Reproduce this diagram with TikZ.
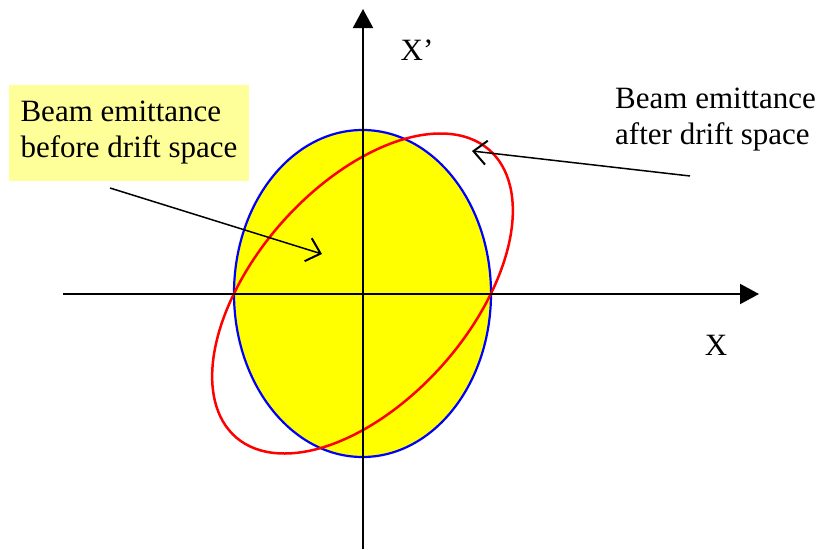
\documentclass[tikz,border=0pt]{standalone}
\usepackage{fontspec}
\setmainfont{Liberation Serif}
\usetikzlibrary{arrows.meta}
\definecolor{boxyellow}{HTML}{FFFF99}
\definecolor{beamyellow}{HTML}{FFFF00}
\definecolor{beamblue}{HTML}{0000FF}
\definecolor{beamred}{HTML}{FF0000}
\begin{document}
\begin{tikzpicture}[x=1pt,y=-1pt,
  font=\fontsize{31}{36}\selectfont,
  axis/.style={line width=2pt, -{Triangle[length=19pt,width=20pt]}},
  pointer/.style={line width=1.5pt, -{Straight Barb[length=13pt,width=24pt,line width=2pt]}},
  label/.style={inner sep=0pt}]
\useasboundingbox (0,0) rectangle (824,549);
% ellipses
\fill[beamyellow] (362.5,293.5) ellipse [x radius=128.5pt, y radius=163.5pt];
\draw[beamblue, line width=2.2pt] (362.5,293.5) ellipse [x radius=128.5pt, y radius=163.5pt];
\begin{scope}[shift={(362.5,293.5)}, cm={1,0,0.4875,1,(0,0)}]
  \draw[beamred, line width=2.5pt] (0,0) ellipse [x radius=128.5pt, y radius=160pt];
\end{scope}
% axes
\coordinate (ybot) at (363,549);
\coordinate (ytop) at (363,9);
\coordinate (xleft) at (63,294);
\coordinate (xright) at (759,294);
\draw[axis] (ybot) -- (ytop);
\draw[axis] (xleft) -- (xright);
% labels
\node[label] (xlab) at (716,345) {X};
\node[label] (xplab) at (417,50) {X’};
\node[label, fill=boxyellow, minimum width=240pt, minimum height=96pt, align=left] (before) at (129,133) {Beam emittance\\before drift space};
\node[label, align=left, anchor=west] (after) at (615,120) {Beam emittance\\after drift space};
% pointers
\coordinate (p1s) at (110,188);
\coordinate (p1e) at (322,254);
\coordinate (p2s) at (690,176);
\coordinate (p2e) at (472,151);
\draw[pointer] (p1s) -- (p1e);
\draw[pointer] (p2s) -- (p2e);
\end{tikzpicture}
\end{document}
